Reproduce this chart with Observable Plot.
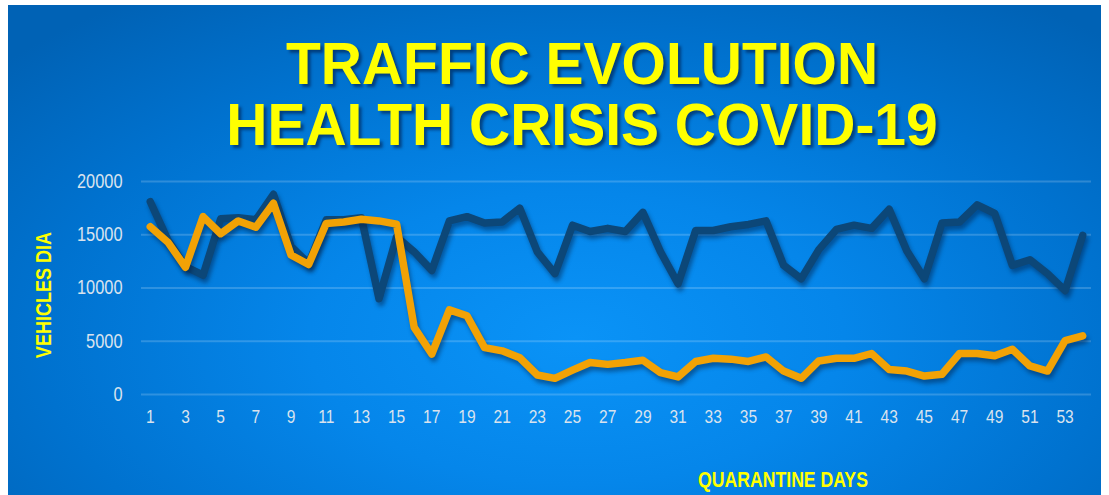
<!DOCTYPE html>
<html>
<head>
<meta charset="utf-8">
<script src="https://cdn.jsdelivr.net/npm/d3@7"></script>
<script src="https://cdn.jsdelivr.net/npm/@observablehq/plot@0.6"></script>
<style>
  html, body { margin: 0; padding: 0; background: #ffffff; }
  #wrap { position: relative; width: 1109px; height: 495px; overflow: hidden; background: #ffffff; }
  #bg { position: absolute; left: 8px; top: 5px; width: 1093px; height: 490px;
        background: radial-gradient(ellipse 70% 85% at 52% 68%, #0a93f7 0%, #0586ea 35%, #0072cf 70%, #0062b5 100%); }
  .title { position: absolute; left: 0; width: 1164px; text-align: center;
           font-family: "Liberation Sans", Arial, sans-serif; font-weight: bold; font-size: 57px;
           color: #ffff00; line-height: 1; text-shadow: 3px 3px 3px rgba(0,20,60,0.55); white-space: nowrap;
           transform: scaleY(1.04); }
  .lab { font-family: "Liberation Sans", Arial, sans-serif; }
  #ylab { position: absolute; left: 44px; top: 295px; transform: translate(-50%, -50%) rotate(-90deg) scale(0.82, 1);
          color: #ffff00; font-weight: bold; font-size: 22px; white-space: nowrap; line-height: 1; }
  #xlab { position: absolute; left: 783px; top: 481px; transform: translate(-50%, -50%) scale(0.82, 1);
          color: #ffff00; font-weight: bold; font-size: 21.5px; white-space: nowrap; line-height: 1; }
  #chart { position: absolute; left: 0; top: 0; }
  #chart svg { overflow: visible; }
  .shadow path { filter: drop-shadow(2px 4px 2px rgba(0,25,60,0.45)); }
</style>
</head>
<body>
<div id="wrap">
  <div id="bg"></div>
  <div class="title" style="top:35px">TRAFFIC EVOLUTION</div>
  <div class="title" style="top:96px">HEALTH CRISIS COVID-19</div>
  <div id="chart"></div>
  <div id="ylab" class="lab">VEHICLES DIA</div>
  <div id="xlab" class="lab">QUARANTINE DAYS</div>
</div>
<script>
const days = d3.range(1, 55);
const seriesDark = [
  18100, 14500, 12000, 11200, 16500, 16600, 16400, 18800, 13900, 12300,
  16400, 16400, 16600, 9000, 14800, 13400, 11650, 16300, 16700, 16100,
  16200, 17500, 13400, 11350, 15900, 15300, 15600, 15300, 17100, 13400,
  10400, 15400, 15400, 15750, 15970, 16300, 12130, 10870, 13600, 15500,
  15900, 15600, 17400, 13500, 10870, 16100, 16200, 17800, 17000, 12130,
  12650, 11350, 9750, 14950
];
const seriesOrange = [
  15750, 14300, 11950, 16700, 15100, 16300, 15700, 17950, 13100, 12200,
  16050, 16200, 16450, 16300, 16000, 6300, 3800, 7950, 7400, 4400,
  4100, 3450, 1830, 1520, 2280, 3000, 2830, 3000, 3220, 2050,
  1650, 3100, 3400, 3320, 3100, 3530, 2200, 1520, 3150, 3400,
  3400, 3850, 2350, 2200, 1730, 1900, 3850, 3850, 3630, 4250,
  2680, 2200, 5050, 5500
];
const yTicks = [0, 5000, 10000, 15000, 20000];
const xTicks = days.filter(d => d % 2 === 1);

const darkColor = "#0c4778";
const orangeColor = "#f2a205";

const rowsDark = days.map((d, i) => ({day: d, value: seriesDark[i]}));
const rowsOrange = days.map((d, i) => ({day: d, value: seriesOrange[i]}));

const chart = Plot.plot({
  width: 1109,
  height: 495,
  marginLeft: 141,
  marginRight: 18,
  marginTop: 181,
  marginBottom: 101,
  style: {background: "transparent", color: "#dfe8f2", overflow: "visible", fontFamily: "'Liberation Sans', Arial, sans-serif"},
  x: {type: "point", domain: days, padding: 0.5},
  y: {domain: [0, 20000]},
  marks: [
    Plot.gridY(yTicks, {stroke: "#ffffff", strokeOpacity: 0.18, strokeWidth: 2}),
    Plot.axisY(yTicks, {tickSize: 0, tickPadding: 19, fontSize: 20, label: null, fill: "#d9e3ee",
      tickFormat: d => String(d)}),
    Plot.axisX(xTicks, {tickSize: 0, tickPadding: 15, fontSize: 19, label: null, fill: "#d9e3ee",
      tickFormat: d => String(d)}),
    Plot.lineY(rowsDark, {x: "day", y: "value", stroke: darkColor, strokeWidth: 7.5,
      strokeLinejoin: "round", strokeLinecap: "round", className: "shadow"}),
    Plot.lineY(rowsOrange, {x: "day", y: "value", stroke: orangeColor, strokeWidth: 7.5,
      strokeLinejoin: "round", strokeLinecap: "round", className: "shadow"})
  ]
});
document.getElementById("chart").appendChild(chart);
// condense tick labels horizontally (narrow face look)
chart.querySelectorAll("g[aria-label$='tick label'] text").forEach(t => {
  const tr = t.getAttribute("transform") || "";
  t.setAttribute("transform", tr + " scale(0.82,1)");
});
</script>
</body>
</html>
